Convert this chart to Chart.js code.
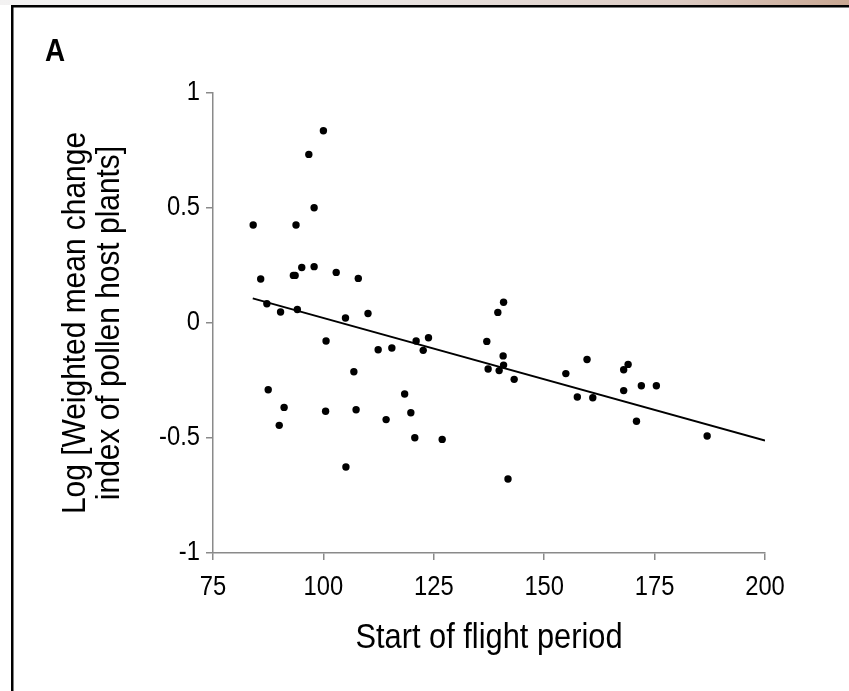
<!DOCTYPE html>
<html>
<head>
<meta charset="utf-8">
<title>Start of flight period vs host plant change</title>
<script src="https://cdn.jsdelivr.net/npm/chart.js@4.4.0/dist/chart.umd.min.js"></script>
<style>
  html, body { margin: 0; padding: 0; background: #fff; }
  #wrap { position: relative; width: 849px; height: 691px; overflow: hidden; }
  #panel {
    position: absolute; left: 45px; top: 34px;
    font: bold 32px "Liberation Sans", Arial, sans-serif; line-height: 32px;
    transform: scaleX(0.87); transform-origin: left top;
  }
</style>
</head>
<body>
<div id="wrap">
  <canvas id="chart" width="849" height="691"></canvas>
  <div id="panel">A</div>
</div>
<script>
// Scatter values
const startDay = [
  100.0, 96.7, 97.9, 84.1, 93.8, 85.8, 93.2, 93.6, 95.1, 97.9,
  102.9, 107.9, 87.2, 90.3, 94.1, 105.0, 110.1, 100.6, 112.4, 115.5,
  121.0, 123.8, 122.6, 106.9, 87.5, 91.1, 90.0, 100.5, 107.4, 118.4,
  119.8, 114.2, 120.7, 126.9, 105.1, 140.8, 139.5, 137.0, 140.7, 140.8,
  137.3, 139.8, 143.2, 141.8, 154.9, 159.7, 157.5, 161.0, 168.0, 169.0,
  168.0, 172.0, 175.4, 170.9, 186.9
];
const logChange = [
  0.836, 0.733, 0.501, 0.426, 0.426, 0.191, 0.207, 0.207, 0.241, 0.245,
  0.220, 0.194, 0.084, 0.048, 0.059, 0.022, 0.041, -0.078, -0.116, -0.109,
  -0.078, -0.064, -0.119, -0.212, -0.290, -0.367, -0.445, -0.384, -0.377, -0.309,
  -0.390, -0.420, -0.499, -0.506, -0.626, 0.090, 0.046, -0.080, -0.143, -0.183,
  -0.200, -0.207, -0.245, -0.678, -0.220, -0.159, -0.322, -0.325, -0.203, -0.180,
  -0.294, -0.273, -0.273, -0.427, -0.491
];

// Regression line end points
const fitX = [84, 200];
const fitY = [0.107, -0.511];

// Axis ticks
const xTicks = [75, 100, 125, 150, 175, 200];
const yTicks = [-1, -0.5, 0, 0.5, 1];

const FONT = '"Liberation Sans", Arial, sans-serif';
const AXIS_GREY = '#8a8a8a';
const TEXT_SQUEEZE = 0.88;

const canvas = document.getElementById('chart');

// the figure's lettering is a little condensed, so squeeze every label sideways
const ctx = canvas.getContext('2d');
const plainFillText = ctx.fillText;
ctx.fillText = function (text, x, y, maxWidth) {
  this.save();
  this.translate(x, y);
  this.scale(TEXT_SQUEEZE, 1);
  if (maxWidth === undefined) plainFillText.call(this, text, 0, 0);
  else plainFillText.call(this, text, 0, 0, maxWidth / TEXT_SQUEEZE);
  this.restore();
};

// white page, faint strip at the top and the black frame
const framePlugin = {
  id: 'frame',
  beforeDraw(chart) {
    const c = chart.ctx;
    c.save();
    c.fillStyle = '#fff';
    c.fillRect(0, 0, chart.width, chart.height);
    const g = c.createLinearGradient(0, 0, chart.width, 0);
    g.addColorStop(0, '#f3f2f2');
    g.addColorStop(0.45, '#e9e4e2');
    g.addColorStop(0.8, '#dccbc3');
    g.addColorStop(1, '#c9a792');
    c.fillStyle = g;
    c.fillRect(0, 0, chart.width, 5);
    c.fillStyle = '#000';
    c.fillRect(11, 5, chart.width - 11, 2.5);
    c.fillRect(11, 5, 2.5, chart.height - 5);
    c.restore();
  }
};

const points = startDay.map((d, i) => ({ x: d, y: logChange[i] }));
const fitLine = fitX.map((d, i) => ({ x: d, y: fitY[i] }));

new Chart(canvas, {
  type: 'scatter',
  data: {
    datasets: [
      {
        data: points,
        pointRadius: 3.7,
        pointBackgroundColor: '#000',
        pointBorderWidth: 0,
        pointHoverRadius: 3.7
      },
      {
        type: 'line',
        data: fitLine,
        borderColor: '#000',
        borderWidth: 2,
        pointRadius: 0,
        fill: false
      }
    ]
  },
  options: {
    responsive: false,
    animation: false,
    layout: { padding: { top: 93, right: 84, left: 0, bottom: 0 } },
    plugins: {
      legend: { display: false },
      tooltip: { enabled: false }
    },
    scales: {
      x: {
        type: 'linear',
        min: 75,
        max: 200,
        afterFit: s => { s.height = 138; },
        afterBuildTicks: s => { s.ticks = xTicks.map(v => ({ value: v })); },
        ticks: {
          color: '#000',
          padding: 11,
          autoSkip: false,
          maxRotation: 0,
          font: { family: FONT, size: 27 },
          callback: v => String(v)
        },
        grid: { drawOnChartArea: false, drawTicks: true, tickLength: 7, color: AXIS_GREY, lineWidth: 1.5 },
        border: { display: true, color: AXIS_GREY, width: 1.5 },
        title: {
          display: true,
          text: 'Start of flight period',
          color: '#000',
          font: { family: FONT, size: 35, lineHeight: 1.0 },
          padding: { top: 0, bottom: 35 }
        }
      },
      y: {
        type: 'linear',
        min: -1,
        max: 1,
        afterFit: s => { s.width = 213; },
        afterBuildTicks: s => { s.ticks = yTicks.map(v => ({ value: v })); },
        ticks: {
          color: '#000',
          padding: 6,
          autoSkip: false,
          font: { family: FONT, size: 27 },
          callback: v => String(v)
        },
        grid: { drawOnChartArea: false, drawTicks: true, tickLength: 7, color: AXIS_GREY, lineWidth: 1.5 },
        border: { display: true, color: AXIS_GREY, width: 1.5 },
        title: {
          display: true,
          text: ['Log [Weighted mean change', 'index of pollen host plants]'],
          color: '#000',
          font: { family: FONT, size: 34, lineHeight: 1.0 },
          padding: { top: 59, bottom: 0 }
        }
      }
    }
  },
  plugins: [framePlugin]
});
</script>
</body>
</html>
